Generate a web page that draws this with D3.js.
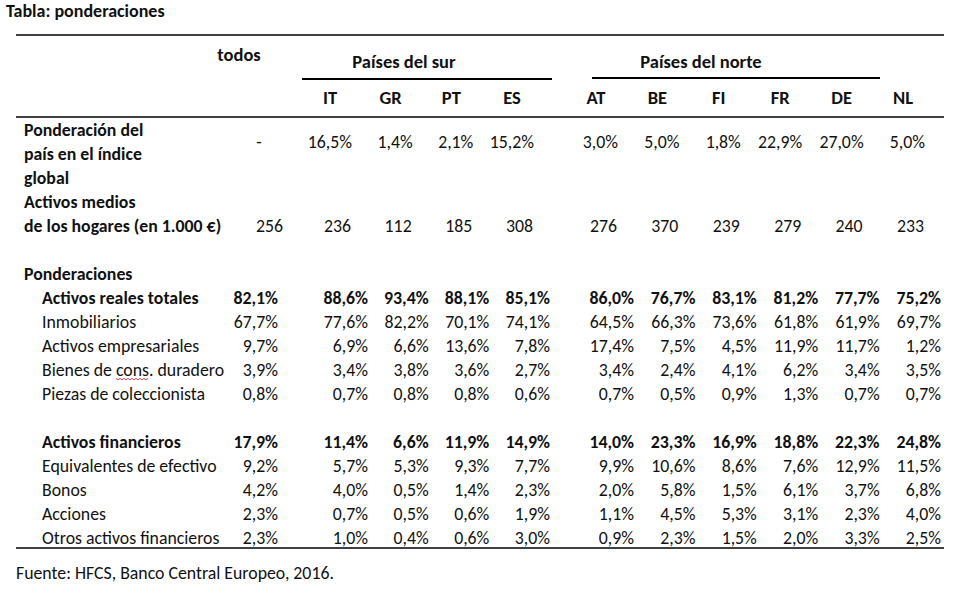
<!DOCTYPE html>
<html><head><meta charset="utf-8">
<script src="https://cdn.jsdelivr.net/npm/d3@7"></script>
<style>
html,body{margin:0;padding:0;background:#fff;}
svg text{font-family:Carlito,Calibri,Lato,sans-serif;fill:#111;}
</style></head><body>
<svg id="c" width="954" height="597"></svg>
<script>
// ---------- DATA ----------
const title = "Tabla: ponderaciones";
const source = "Fuente: HFCS, Banco Central Europeo, 2016.";
const allLabel = "todos";
const southLabel = "Países del sur";
const northLabel = "Países del norte";
const southCountries = ["IT","GR","PT","ES"];
const northCountries = ["AT","BE","FI","FR","DE","NL"];
// values: first entry = todos, then IT..NL
const countryWeight = [null,16.5,1.4,2.1,15.2,3.0,5.0,1.8,22.9,27.0,5.0];
const avgAssets = [256,236,112,185,308,276,370,239,279,240,233];
const realTotal     = [82.1,88.6,93.4,88.1,85.1,86.0,76.7,83.1,81.2,77.7,75.2];
const realEstate    = [67.7,77.6,82.2,70.1,74.1,64.5,66.3,73.6,61.8,61.9,69.7];
const business      = [9.7,6.9,6.6,13.6,7.8,17.4,7.5,4.5,11.9,11.7,1.2];
const durables      = [3.9,3.4,3.8,3.6,2.7,3.4,2.4,4.1,6.2,3.4,3.5];
const collectibles  = [0.8,0.7,0.8,0.8,0.6,0.7,0.5,0.9,1.3,0.7,0.7];
const financial     = [17.9,11.4,6.6,11.9,14.9,14.0,23.3,16.9,18.8,22.3,24.8];
const cash          = [9.2,5.7,5.3,9.3,7.7,9.9,10.6,8.6,7.6,12.9,11.5];
const bonds         = [4.2,4.0,0.5,1.4,2.3,2.0,5.8,1.5,6.1,3.7,6.8];
const shares        = [2.3,0.7,0.5,0.6,1.9,1.1,4.5,5.3,3.1,2.3,4.0];
const otherFin      = [2.3,1.0,0.4,0.6,3.0,0.9,2.3,1.5,2.0,3.3,2.5];
const pctRows = [
  {label:"Activos reales totales", values:realTotal, bold:true, line:7},
  {label:"Inmobiliarios", values:realEstate, line:8},
  {label:"Activos empresariales", values:business, line:9},
  {label:"Bienes de cons. duradero", values:durables, line:10},
  {label:"Piezas de coleccionista", values:collectibles, line:11},
  {label:"Activos financieros", values:financial, bold:true, line:13},
  {label:"Equivalentes de efectivo", values:cash, line:14},
  {label:"Bonos", values:bonds, line:15},
  {label:"Acciones", values:shares, line:16},
  {label:"Otros activos financieros", values:otherFin, line:17}
];

// ---------- RENDER ----------
const svg = d3.select("#c");
const FS = 17.8, HS = 18.5;
const loc = d3.formatLocale({decimal:",", thousands:".", grouping:[3], currency:["","€"]});
const pct = v => v == null ? "-" : loc.format(".1f")(v) + "%";

const southX = d3.scalePoint().domain(southCountries).range([368,550]);
const northX = d3.scalePoint().domain(northCountries).range([634,941]);
const allCols = ["todos"].concat(southCountries, northCountries);
const colRight = c => c === "todos" ? 278 : (southCountries.includes(c) ? southX(c) : northX(c));
const yLine = d3.scaleLinear().domain([0,1]).range([129.5,153.5]); // 24px grid of text lines

const L = 16, R = 944;
function hline(x1,x2,y,w){ svg.append("line").attr("x1",x1).attr("x2",x2).attr("y1",y).attr("y2",y).attr("stroke","#000").attr("stroke-width",w||1.4); }
function txt(x,y,s,opt){ opt=opt||{};
  return svg.append("text").attr("x",x).attr("y",y).attr("dy","0.35em")
    .attr("text-anchor",opt.anchor||"start").attr("font-size",opt.size||FS)
    .attr("font-weight",opt.bold?"bold":"normal").text(s); }

txt(6,11,title,{bold:true,size:18});
hline(L,R,35);
hline(L,R,117);
hline(L,R,548);
hline(302,552,79,1.8);
hline(592,880,78,1.8);

txt(239,55,allLabel,{anchor:"middle",bold:true,size:HS});
txt(404,62,southLabel,{anchor:"middle",bold:true,size:HS});
txt(701,62,northLabel,{anchor:"middle",bold:true,size:HS});
southCountries.concat(northCountries).forEach(c => txt(colRight(c)-38,98,c,{anchor:"middle",bold:true,size:HS}));

// first block
["Ponderación del","país en el índice","global","Activos medios","de los hogares (en 1.000 €)"]
  .forEach((s,i)=>txt(24,yLine(i),s,{bold:true}));
allCols.forEach((c,i)=>{
  const y1 = (yLine(0)+yLine(1))/2;
  if(c==="todos"){
    txt(259,y1,pct(countryWeight[i]),{anchor:"middle"});
    txt(283,yLine(4),avgAssets[i],{anchor:"end"});
  } else {
    txt(colRight(c)-16,y1,pct(countryWeight[i]),{anchor:"end"});
    txt(colRight(c)-17,yLine(4),avgAssets[i],{anchor:"end"});
  }
});

txt(24,yLine(6),"Ponderaciones",{bold:true});
pctRows.forEach(r=>{
  const y = yLine(r.line);
  const t = txt(42,y,r.label,{bold:r.bold});
  allCols.forEach((c,i)=>txt(colRight(c),y,pct(r.values[i]),{anchor:"end",bold:r.bold}));
  if(r.label.indexOf("cons.")>=0){
    const n = t.node(); const s = r.label.indexOf("cons");
    const x0 = 42 + n.getSubStringLength(0,s), w = n.getSubStringLength(s,4);
    const pts = d3.range(0, Math.floor(w/2)+1).map(k=>[x0+k*2, y+9+(k%2?1.2:0)]);
    svg.append("path").attr("d",d3.line()(pts)).attr("fill","none").attr("stroke","#e03030").attr("stroke-width",0.9);
  }
});

txt(16,573,source);
</script></body></html>
